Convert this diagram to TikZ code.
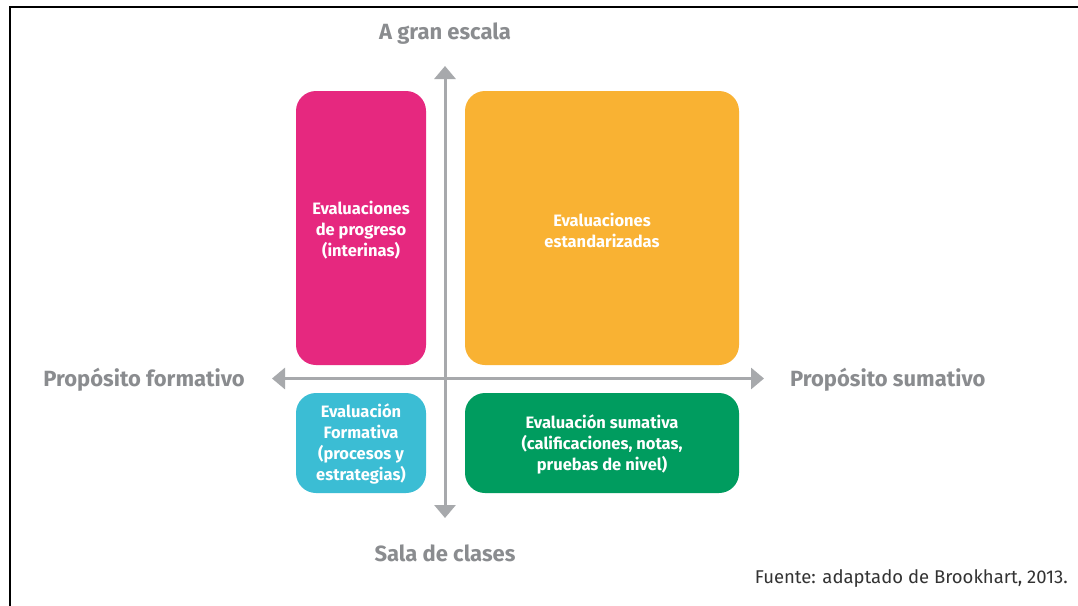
\documentclass[tikz,border=0pt]{standalone}
\usepackage{fontspec}
\setmainfont{Fira Sans}
\usetikzlibrary{arrows.meta}
\definecolor{cpink}{HTML}{E6287F}
\definecolor{corange}{HTML}{F9B233}
\definecolor{ccyan}{HTML}{3BBDD4}
\definecolor{cgreen}{HTML}{009C5F}
\definecolor{caxis}{HTML}{A7A9AC}
\definecolor{clabel}{HTML}{8A8C8F}
\definecolor{cfuente}{HTML}{333333}
\tikzset{
  quad/.style={inner sep=0pt, text=white, font=\fontsize{16.5}{21}\selectfont\bfseries, align=center},
  axislabel/.style={text=clabel, font=\fontsize{22}{24}\selectfont\bfseries, inner sep=0pt},
  axis/.style={draw=caxis, line width=3pt, -{Triangle[width=21pt,length=13pt]}},
  box/.style={rounded corners=20pt},
}
\begin{document}
\begin{tikzpicture}[x=1pt,y=-1pt]
\useasboundingbox (0,0) rectangle (1078,605);
\fill[white] (0,0) rectangle (1078,605);
\draw[line width=2pt,black] (9.5,606) -- (9.5,6.5) -- (1079,6.5);
% boxes
\path[box, fill=cpink] (296,91) rectangle (426,365);
\path[box, fill=corange] (465,91) rectangle (739,365);
\path[box, fill=ccyan] (296,393) rectangle (426,493);
\path[box, fill=cgreen] (465,393) rectangle (739,493);
\node[quad] (prog) at (361,230) {Evaluaciones\\de progreso\\(interinas)};
\node[quad] (est) at (602,230) {Evaluaciones\\estandarizadas};
\node[quad] (form) at (361,444) {Evaluación\\Formativa\\(procesos y\\estrategias)};
\node[quad] (sum) at (602,444) {Evaluación sumativa\\(calificaciones, notas,\\pruebas de nivel)};
% axes
\coordinate (c) at (445,378.5);
\coordinate (top) at (445,66);
\coordinate (bot) at (445,518);
\coordinate (lft) at (272,378.5);
\coordinate (rgt) at (764,378.5);
\draw[axis] (c) -- (top);
\draw[axis] (c) -- (bot);
\draw[axis] (c) -- (lft);
\draw[axis] (c) -- (rgt);
% labels
\node[axislabel] (lt) at (445,34) {A gran escala};
\node[axislabel] (lb) at (445,553) {Sala de clases};
\node[axislabel, anchor=east] (ll) at (245,380) {Propósito formativo};
\node[axislabel, anchor=west] (lr) at (790,380) {Propósito sumativo};
\node[text=cfuente, font=\fontsize{18.5}{20}\selectfont, anchor=east, inner sep=0pt] (src) at (1068,579) {Fuente: adaptado de Brookhart, 2013.};
\end{tikzpicture}
\end{document}
